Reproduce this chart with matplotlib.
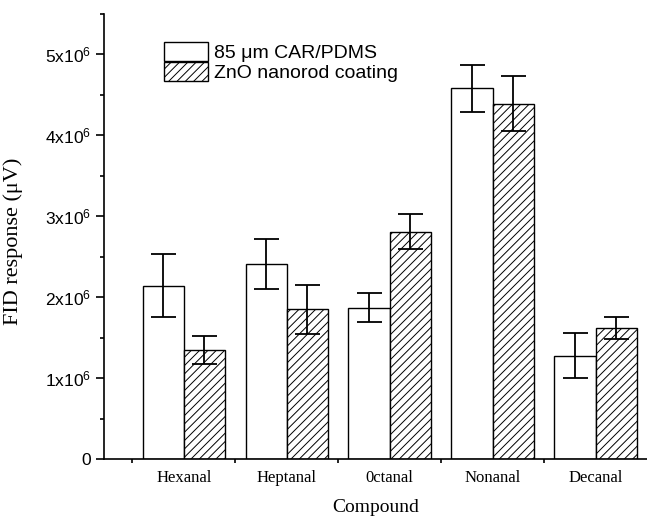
import numpy as np
import matplotlib
matplotlib.use('Agg')
import matplotlib.pyplot as plt
from matplotlib.ticker import MultipleLocator, FixedLocator, FuncFormatter

compounds = ['Hexanal', 'Heptanal', '0ctanal', 'Nonanal', 'Decanal']
car_pdms = [2.14e6, 2.41e6, 1.87e6, 4.58e6, 1.28e6]
car_pdms_err = [0.39e6, 0.31e6, 0.18e6, 0.29e6, 0.28e6]
zno = [1.35e6, 1.85e6, 2.81e6, 4.39e6, 1.62e6]
zno_err = [0.175e6, 0.30e6, 0.22e6, 0.34e6, 0.13e6]

plt.rcParams['hatch.linewidth'] = 0.7
plt.rcParams['mathtext.fontset'] = 'custom'
plt.rcParams['mathtext.rm'] = 'Liberation Sans'

fig = plt.figure(figsize=(6.47, 5.17), dpi=100)
ax = fig.add_axes([0.160, 0.112, 0.840, 0.861])

x = np.arange(len(compounds))
w = 0.4
ax.bar(x - w/2, car_pdms, width=w, color='white', edgecolor='black', linewidth=1.0,
       label='85 μm CAR/PDMS')
ax.bar(x + w/2, zno, width=w, color='white', edgecolor='black', linewidth=1.0,
       hatch='////', label='ZnO nanorod coating')
ax.errorbar(x - w/2, car_pdms, yerr=car_pdms_err, fmt='none', ecolor='black',
            elinewidth=1.3, capsize=9, capthick=1.3)
ax.errorbar(x + w/2, zno, yerr=zno_err, fmt='none', ecolor='black',
            elinewidth=1.3, capsize=9, capthick=1.3)

ax.set_xlim(-0.78, 4.5)
ax.set_ylim(0, 5.5e6)

ax.spines['top'].set_visible(False)
ax.spines['right'].set_visible(False)
ax.spines['left'].set_linewidth(1.2)
ax.spines['bottom'].set_linewidth(1.2)

# y axis
ax.yaxis.set_major_locator(MultipleLocator(1e6))
ax.yaxis.set_minor_locator(MultipleLocator(0.5e6))

def yfmt(v, pos):
    n = int(round(v / 1e6))
    if n == 0:
        return '0'
    return r'$\mathregular{%dx10^{6}}$' % n

ax.yaxis.set_major_formatter(FuncFormatter(yfmt))
ax.tick_params(axis='y', which='major', direction='out', length=6, width=1.2,
               labelsize=12.5, pad=3)
ax.tick_params(axis='y', which='minor', direction='out', length=3, width=1.2)
for lab in ax.get_yticklabels():
    lab.set_fontfamily('Liberation Sans')

# x axis
ax.set_xticks(x)
ax.set_xticklabels(compounds, family='Liberation Serif', fontsize=12)
ax.xaxis.set_minor_locator(FixedLocator(np.arange(-0.5, 4.0, 1.0)))
ax.tick_params(axis='x', which='major', length=0, pad=8)
ax.tick_params(axis='x', which='minor', direction='out', length=3, width=1.2)

ax.set_xlabel('Compound', family='Liberation Serif', fontsize=14, labelpad=9)
ax.set_ylabel('FID response (μV)', family='Liberation Serif', fontsize=16)
ax.yaxis.set_label_coords(-0.149, 0.49)

leg = ax.legend(loc='upper left', bbox_to_anchor=(0.093, 0.958), frameon=False,
                prop={'family': 'Liberation Sans', 'size': 14},
                handlelength=2.25, handleheight=1.1, handletextpad=0.35,
                labelspacing=0.0, borderpad=0)
for p in leg.get_patches():
    p.set_linewidth(1.0)

fig.savefig('out.png', dpi=100)
